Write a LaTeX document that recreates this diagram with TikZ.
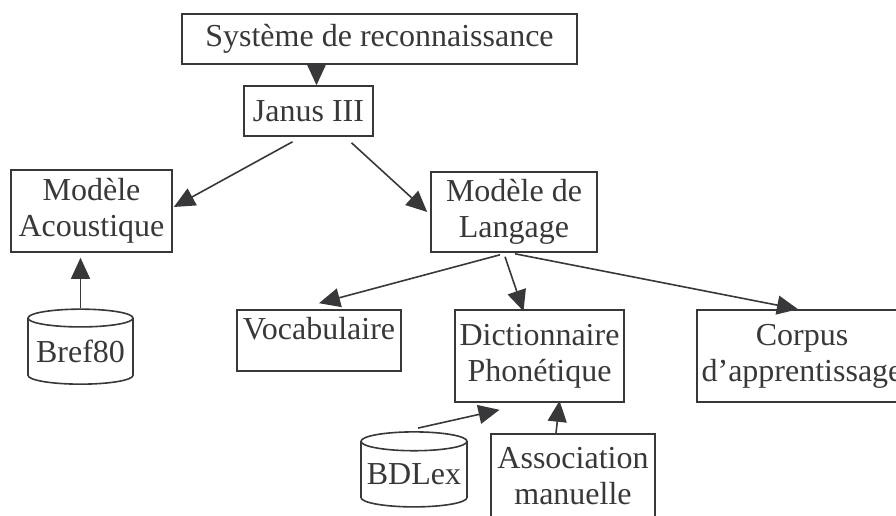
\documentclass[tikz,border=0pt]{standalone}
\usepackage{fontspec}
\setmainfont{Liberation Serif}
\usetikzlibrary{arrows.meta,positioning,shapes.geometric,calc}

\definecolor{inkgray}{HTML}{38383A}

\tikzset{
  box/.style={draw=inkgray, line width=1.6pt, rectangle, inner sep=0pt, align=center, text=inkgray},
  base/.style={cylinder, shape border rotate=90, draw=inkgray, line width=1.6pt, aspect=0.2, inner sep=0pt, text=inkgray},
  arr/.style={-{Triangle[length=21pt,width=19pt]}, draw=inkgray, line width=1.6pt},
}

\begin{document}
\begin{tikzpicture}[x=1pt, y=-1pt, font=\fontsize{32}{36}\selectfont]
    \useasboundingbox (0,0) rectangle (896,516);
    % Boxes
    \node[box, minimum width=395pt, minimum height=50pt] (sys) at (379.5,39) {Système de reconnaissance};
    \node[box, minimum width=129pt, minimum height=50pt] (janus) at (308.5,111) {Janus III};
    \node[box, minimum width=161pt, minimum height=82pt] (acou) at (91.5,211) {Modèle\\Acoustique};
    \node[box, minimum width=166pt, minimum height=80pt] (lang) at (514,212) {Modèle de\\Langage};
    \node[box, minimum width=164pt, minimum height=61pt, text depth=24pt] (voc) at (319,340.5) {Vocabulaire};
    \node[box, minimum width=169pt, minimum height=92pt] (dict) at (539.5,356) {Dictionnaire\\Phonétique};
    \node[box, minimum width=210pt, minimum height=92pt] (corpus) at (802,356) {Corpus\\d’apprentissage};
    \node[box, minimum width=164pt, minimum height=84pt] (assoc) at (573,476) {Association\\manuelle};
    % Databases
    \node[base, minimum width=105pt, minimum height=75pt] (bref) at (80.5,351.5) {Bref80};
    \node[base, minimum width=106pt, minimum height=75pt] (bdlex) at (414,474.5) {BDLex};
    % Arrows
    \draw[arr] ([xshift=8pt]janus.north |- sys.south) -- ([xshift=8pt]janus.north);
    \draw[arr] ([xshift=-16pt,yshift=-5pt]janus.south) -- ([xshift=1pt,yshift=4pt]acou.east);
    \draw[arr] ([xshift=43pt,yshift=-6pt]janus.south) -- ([xshift=-3pt]lang.west);
    \draw[arr] ([xshift=-14pt,yshift=-2pt]lang.south) -- ([yshift=6pt]voc.north);
    \draw[arr] ([xshift=-9pt,yshift=-4pt]lang.south) -- ([xshift=-16pt,yshift=-2pt]dict.north);
    \draw[arr] ([xshift=1pt,yshift=-1pt]lang.south) -- ([xshift=-4pt]corpus.north);
    \draw[arr] (bref.north) -- ([yshift=-5pt]bref.north |- acou.south);
    \draw[arr] ([xshift=4pt,yshift=3pt]bdlex.north) -- ([xshift=-40pt,yshift=-7pt]dict.south);
    \draw[arr] ([xshift=-17pt]assoc.north) -- ([xshift=20pt,yshift=2pt]dict.south);
\end{tikzpicture}
\end{document}
